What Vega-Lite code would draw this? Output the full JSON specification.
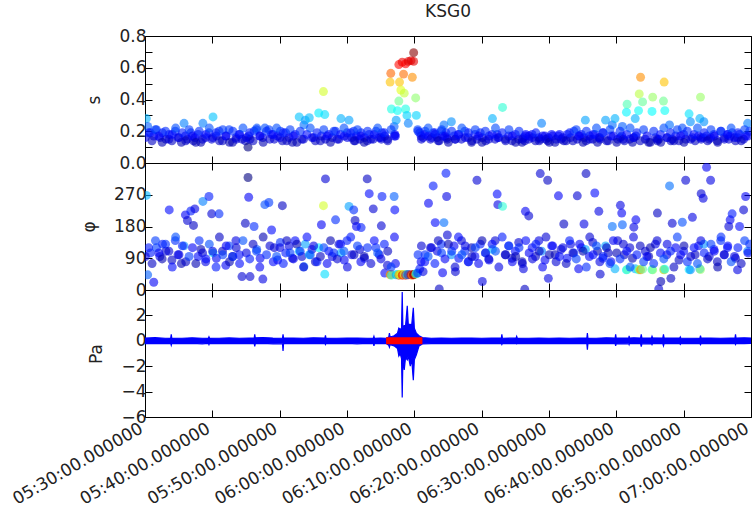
{
  "$schema": "https://vega.github.io/schema/vega-lite/v6.json",
  "background": "white",
  "padding": {"left": 8, "top": 2, "right": 0, "bottom": 0},
  "spacing": 0,
  "bounds": "flush",
  "config": {
    "view": {"stroke": "#000", "strokeWidth": 1},
    "font": "DejaVu Sans",
    "axis": {"grid": false, "labelFont": "DejaVu Sans", "labelFontSize": 17, "labelColor": "#222", "titleFont": "DejaVu Sans", "titleFontSize": 17, "titleFontWeight": "normal", "titleColor": "#222", "tickColor": "#000", "domain": false, "tickSize": -7, "tickWidth": 1, "labelPadding": 6, "titlePadding": 15}
  },
  "datasets": {
    "pts": [
      {"t":0.2,"s":0.28,"p":268},{"t":0.4,"s":0.23,"p":43},{"t":0.8,"s":0.19,"p":105},{"t":1.3,"s":0.17,"p":22},{"t":1.7,"s":0.21,"p":120},{"t":2.2,"s":0.16,"p":95},{"t":2.6,"s":0.19,"p":130},{"t":3.1,"s":0.15,"p":110},{"t":3.6,"s":0.18,"p":227},{"t":4.0,"s":0.14,"p":85},
      {"t":4.5,"s":0.2,"p":140},{"t":4.9,"s":0.16,"p":100},{"t":5.4,"s":0.13,"p":75},{"t":5.8,"s":0.25,"p":125},{"t":6.0,"s":0.17,"p":213},{"t":6.3,"s":0.15,"p":197},{"t":6.8,"s":0.19,"p":224},{"t":7.2,"s":0.14,"p":183},{"t":7.4,"s":0.16,"p":230},{"t":7.9,"s":0.18,"p":95},
      {"t":8.3,"s":0.13,"p":115},{"t":8.6,"s":0.25,"p":251},{"t":9.0,"s":0.16,"p":80},{"t":9.5,"s":0.19,"p":265},{"t":9.9,"s":0.15,"p":216},{"t":10.1,"s":0.29,"p":105},{"t":10.6,"s":0.17,"p":90},{"t":11.0,"s":0.2,"p":216},{"t":11.5,"s":0.14,"p":110},{"t":12.0,"s":0.17,"p":70},
      {"t":12.5,"s":0.21,"p":125},{"t":13.0,"s":0.13,"p":95},{"t":13.5,"s":0.16,"p":140},{"t":14.0,"s":0.18,"p":100},{"t":14.4,"s":0.15,"p":38},{"t":14.9,"s":0.14,"p":189},{"t":15.3,"s":0.1,"p":319},{"t":15.4,"s":0.17,"p":263},{"t":15.6,"s":0.15,"p":38},{"t":16.2,"s":0.2,"p":180},
      {"t":16.6,"s":0.22,"p":115},{"t":17.1,"s":0.17,"p":90},{"t":17.5,"s":0.16,"p":31},{"t":17.8,"s":0.22,"p":242},{"t":18.4,"s":0.21,"p":248},{"t":18.8,"s":0.18,"p":170},{"t":19.2,"s":0.15,"p":120},{"t":19.7,"s":0.17,"p":85},{"t":20.1,"s":0.2,"p":135},{"t":20.4,"s":0.14,"p":239},
      {"t":20.9,"s":0.19,"p":105},{"t":21.4,"s":0.16,"p":125},{"t":21.9,"s":0.13,"p":90},{"t":22.3,"s":0.18,"p":140},{"t":22.9,"s":0.29,"p":110},{"t":23.3,"s":0.15,"p":95},{"t":23.6,"s":0.24,"p":66},{"t":23.8,"s":0.27,"p":130},{"t":24.4,"s":0.285,"p":100},{"t":24.8,"s":0.16,"p":115},
      {"t":25.3,"s":0.14,"p":80},{"t":25.8,"s":0.315,"p":120},{"t":26.2,"s":0.17,"p":185},{"t":26.5,"s":0.45,"p":239},{"t":26.7,"s":0.305,"p":45},{"t":26.8,"s":0.15,"p":315},{"t":27.3,"s":0.18,"p":110},{"t":27.8,"s":0.16,"p":95},{"t":28.3,"s":0.2,"p":199},{"t":28.8,"s":0.15,"p":130},
      {"t":29.1,"s":0.28,"p":105},{"t":29.6,"s":0.17,"p":85},{"t":30.0,"s":0.19,"p":140},{"t":30.3,"s":0.27,"p":237},{"t":30.7,"s":0.16,"p":100},{"t":31.0,"s":0.2,"p":227},{"t":31.2,"s":0.14,"p":197},{"t":31.4,"s":0.17,"p":180},{"t":31.9,"s":0.15,"p":115},{"t":32.1,"s":0.19,"p":177},
      {"t":32.6,"s":0.16,"p":90},{"t":33.0,"s":0.14,"p":315},{"t":33.3,"s":0.18,"p":273},{"t":33.9,"s":0.15,"p":230},{"t":34.3,"s":0.2,"p":120},{"t":34.8,"s":0.16,"p":100},{"t":35.1,"s":0.15,"p":182},{"t":35.2,"s":0.19,"p":265},{"t":35.6,"s":0.17,"p":48},{"t":36.0,"s":0.15,"p":70},
      {"t":36.4,"s":0.51,"p":43},{"t":36.5,"s":0.565,"p":44},{"t":36.6,"s":0.34,"p":42},{"t":37.0,"s":0.23,"p":265},{"t":37.1,"s":0.18,"p":227},{"t":37.2,"s":0.17,"p":75},{"t":37.3,"s":0.27,"p":43},{"t":37.5,"s":0.33,"p":44},{"t":37.7,"s":0.62,"p":42},{"t":37.7,"s":0.39,"p":43},
      {"t":37.8,"s":0.51,"p":44},{"t":38.0,"s":0.46,"p":43},{"t":38.2,"s":0.635,"p":42},{"t":38.4,"s":0.56,"p":43},{"t":38.5,"s":0.44,"p":44},{"t":38.7,"s":0.34,"p":43},{"t":38.7,"s":0.625,"p":42},{"t":38.9,"s":0.3,"p":43},{"t":39.1,"s":0.64,"p":43},{"t":39.1,"s":0.25,"p":44},
      {"t":39.5,"s":0.645,"p":43},{"t":39.7,"s":0.54,"p":42},{"t":39.9,"s":0.64,"p":43},{"t":39.9,"s":0.695,"p":44},{"t":40.2,"s":0.41,"p":45},{"t":40.3,"s":0.3,"p":47},{"t":40.5,"s":0.21,"p":48},{"t":40.8,"s":0.19,"p":60},{"t":41.0,"s":0.17,"p":80},{"t":41.3,"s":0.16,"p":52},
      {"t":41.6,"s":0.2,"p":100},{"t":42.1,"s":0.17,"p":246},{"t":42.4,"s":0.15,"p":120},{"t":42.8,"s":0.19,"p":295},{"t":43.1,"s":0.18,"p":191},{"t":43.4,"s":0.16,"p":110},{"t":43.7,"s":0.14,"p":3},{"t":44.0,"s":0.2,"p":130},{"t":44.2,"s":0.17,"p":49},{"t":44.4,"s":0.24,"p":191},
      {"t":44.7,"s":0.19,"p":331},{"t":44.8,"s":0.16,"p":265},{"t":44.9,"s":0.15,"p":156},{"t":45.5,"s":0.26,"p":100},{"t":45.9,"s":0.17,"p":125},{"t":46.1,"s":0.15,"p":52},{"t":46.6,"s":0.18,"p":90},{"t":47.0,"s":0.15,"p":140},{"t":47.5,"s":0.2,"p":110},{"t":48.0,"s":0.16,"p":80},
      {"t":48.5,"s":0.13,"p":120},{"t":49.0,"s":0.18,"p":95},{"t":49.3,"s":0.15,"p":311},{"t":49.8,"s":0.19,"p":130},{"t":50.1,"s":0.16,"p":24},{"t":50.6,"s":0.14,"p":105},{"t":51.1,"s":0.17,"p":85},{"t":51.6,"s":0.28,"p":115},{"t":52.0,"s":0.15,"p":140},{"t":52.3,"s":0.18,"p":272},
      {"t":52.4,"s":0.16,"p":242},{"t":53.1,"s":0.35,"p":237},{"t":53.5,"s":0.15,"p":100},{"t":54.0,"s":0.17,"p":125},{"t":54.5,"s":0.14,"p":90},{"t":55.0,"s":0.18,"p":110},{"t":55.5,"s":0.15,"p":135},{"t":56.0,"s":0.13,"p":80},{"t":56.2,"s":0.16,"p":60},{"t":56.4,"s":0.14,"p":2},
      {"t":56.5,"s":0.17,"p":223},{"t":57.0,"s":0.15,"p":210},{"t":57.5,"s":0.18,"p":120},{"t":58.0,"s":0.14,"p":95},{"t":58.5,"s":0.16,"p":140},{"t":58.7,"s":0.15,"p":330},{"t":58.9,"s":0.25,"p":110},{"t":59.4,"s":0.17,"p":85},{"t":59.8,"s":0.14,"p":311},{"t":59.9,"s":0.16,"p":33},
      {"t":60.4,"s":0.18,"p":125},{"t":60.9,"s":0.13,"p":100},{"t":61.4,"s":0.17,"p":267},{"t":61.8,"s":0.15,"p":115},{"t":62.2,"s":0.14,"p":187},{"t":62.7,"s":0.18,"p":90},{"t":63.2,"s":0.16,"p":130},{"t":63.7,"s":0.2,"p":105},{"t":64.2,"s":0.15,"p":267},{"t":64.4,"s":0.17,"p":60},
      {"t":64.8,"s":0.18,"p":120},{"t":65.2,"s":0.16,"p":187},{"t":65.4,"s":0.27,"p":115},{"t":65.5,"s":0.14,"p":330},{"t":66.0,"s":0.17,"p":95},{"t":66.5,"s":0.15,"p":135},{"t":66.8,"s":0.18,"p":275},{"t":67.2,"s":0.13,"p":110},{"t":67.4,"s":0.16,"p":223},{"t":67.6,"s":0.15,"p":45},
      {"t":68.0,"s":0.19,"p":90},{"t":68.4,"s":0.27,"p":125},{"t":68.8,"s":0.14,"p":105},{"t":69.2,"s":0.17,"p":80},{"t":69.4,"s":0.24,"p":180},{"t":69.8,"s":0.28,"p":60},{"t":70.2,"s":0.15,"p":140},{"t":70.6,"s":0.16,"p":240},{"t":70.8,"s":0.17,"p":218},{"t":70.9,"s":0.23,"p":185},
      {"t":71.2,"s":0.14,"p":100},{"t":71.5,"s":0.32,"p":57},{"t":71.6,"s":0.37,"p":58},{"t":72.0,"s":0.15,"p":120},{"t":72.4,"s":0.13,"p":90},{"t":72.6,"s":0.16,"p":178},{"t":72.8,"s":0.28,"p":60},{"t":72.9,"s":0.17,"p":199},{"t":73.3,"s":0.33,"p":57},{"t":73.4,"s":0.435,"p":58},
      {"t":73.6,"s":0.54,"p":57},{"t":73.9,"s":0.385,"p":59},{"t":74.3,"s":0.15,"p":110},{"t":74.8,"s":0.13,"p":95},{"t":75.3,"s":0.325,"p":58},{"t":75.4,"s":0.415,"p":57},{"t":75.8,"s":0.16,"p":130},{"t":76.1,"s":0.14,"p":218},{"t":76.3,"s":0.15,"p":3},{"t":76.6,"s":0.13,"p":24},
      {"t":77.0,"s":0.39,"p":58},{"t":77.1,"s":0.51,"p":57},{"t":77.2,"s":0.33,"p":59},{"t":77.5,"s":0.16,"p":100},{"t":77.9,"s":0.24,"p":295},{"t":78.1,"s":0.14,"p":33},{"t":78.3,"s":0.15,"p":189},{"t":78.8,"s":0.17,"p":120},{"t":79.3,"s":0.14,"p":85},{"t":79.8,"s":0.22,"p":192},
      {"t":80.0,"s":0.18,"p":110},{"t":80.3,"s":0.15,"p":311},{"t":80.8,"s":0.31,"p":58},{"t":81.0,"s":0.26,"p":57},{"t":81.3,"s":0.16,"p":206},{"t":81.7,"s":0.14,"p":100},{"t":82.2,"s":0.17,"p":125},{"t":82.4,"s":0.28,"p":60},{"t":82.5,"s":0.415,"p":58},{"t":82.6,"s":0.15,"p":273},
      {"t":82.9,"s":0.16,"p":260},{"t":83.0,"s":0.26,"p":130},{"t":83.4,"s":0.17,"p":348},{"t":83.8,"s":0.15,"p":95},{"t":84.0,"s":0.16,"p":311},{"t":84.5,"s":0.18,"p":115},{"t":85.0,"s":0.14,"p":80},{"t":85.5,"s":0.2,"p":140},{"t":86.0,"s":0.16,"p":100},{"t":86.5,"s":0.18,"p":120},
      {"t":86.7,"s":0.15,"p":180},{"t":86.9,"s":0.17,"p":199},{"t":87.2,"s":0.19,"p":216},{"t":87.7,"s":0.14,"p":90},{"t":88.0,"s":0.16,"p":57},{"t":88.3,"s":0.18,"p":180},{"t":88.9,"s":0.15,"p":227},{"t":89.2,"s":0.17,"p":265},{"t":89.5,"s":0.25,"p":110},{"t":89.8,"s":0.2,"p":130},
      {"t":0.05,"s":0.16,"p":95},{"t":0.55,"s":0.19,"p":120},{"t":1.05,"s":0.14,"p":75},{"t":1.55,"s":0.21,"p":140},{"t":2.05,"s":0.17,"p":105},{"t":2.55,"s":0.13,"p":88},{"t":3.05,"s":0.2,"p":130},{"t":3.55,"s":0.15,"p":110},{"t":4.05,"s":0.18,"p":65},{"t":4.55,"s":0.22,"p":150},
      {"t":5.05,"s":0.16,"p":100},{"t":5.55,"s":0.19,"p":125},{"t":6.05,"s":0.14,"p":80},{"t":6.55,"s":0.21,"p":95},{"t":7.05,"s":0.17,"p":120},{"t":7.55,"s":0.13,"p":75},{"t":8.05,"s":0.2,"p":140},{"t":8.55,"s":0.15,"p":105},{"t":9.05,"s":0.18,"p":88},{"t":9.55,"s":0.22,"p":130},
      {"t":10.05,"s":0.16,"p":110},{"t":10.55,"s":0.19,"p":65},{"t":11.05,"s":0.14,"p":150},{"t":11.55,"s":0.21,"p":100},{"t":12.05,"s":0.17,"p":125},{"t":12.55,"s":0.13,"p":80},{"t":13.05,"s":0.2,"p":95},{"t":13.55,"s":0.15,"p":120},{"t":14.05,"s":0.18,"p":75},{"t":14.55,"s":0.22,"p":140},
      {"t":15.05,"s":0.16,"p":105},{"t":15.55,"s":0.19,"p":88},{"t":16.05,"s":0.14,"p":130},{"t":16.55,"s":0.21,"p":110},{"t":17.05,"s":0.17,"p":65},{"t":17.55,"s":0.13,"p":150},{"t":18.05,"s":0.2,"p":100},{"t":18.55,"s":0.15,"p":125},{"t":19.05,"s":0.18,"p":80},{"t":19.55,"s":0.22,"p":95},
      {"t":20.05,"s":0.16,"p":120},{"t":20.55,"s":0.19,"p":75},{"t":21.05,"s":0.14,"p":140},{"t":21.55,"s":0.21,"p":105},{"t":22.05,"s":0.17,"p":88},{"t":22.55,"s":0.13,"p":130},{"t":23.05,"s":0.2,"p":110},{"t":23.55,"s":0.15,"p":65},{"t":24.05,"s":0.18,"p":150},{"t":24.55,"s":0.22,"p":100},
      {"t":25.05,"s":0.16,"p":125},{"t":25.55,"s":0.19,"p":80},{"t":26.05,"s":0.14,"p":95},{"t":26.55,"s":0.21,"p":120},{"t":27.05,"s":0.17,"p":75},{"t":27.55,"s":0.13,"p":140},{"t":28.05,"s":0.2,"p":105},{"t":28.55,"s":0.15,"p":88},{"t":29.05,"s":0.18,"p":130},{"t":29.55,"s":0.22,"p":110},
      {"t":30.05,"s":0.16,"p":65},{"t":30.55,"s":0.19,"p":150},{"t":31.05,"s":0.14,"p":100},{"t":31.55,"s":0.21,"p":125},{"t":32.05,"s":0.17,"p":80},{"t":32.55,"s":0.13,"p":95},{"t":33.05,"s":0.2,"p":120},{"t":33.55,"s":0.15,"p":75},{"t":34.05,"s":0.18,"p":140},{"t":34.55,"s":0.22,"p":105},
      {"t":35.05,"s":0.16,"p":88},{"t":35.55,"s":0.19,"p":130},{"t":36.05,"s":0.14,"p":110},{"t":36.55,"s":0.21,"p":65},{"t":37.05,"s":0.17,"p":150},{"t":40.55,"s":0.2,"p":100},{"t":41.05,"s":0.15,"p":125},{"t":41.55,"s":0.18,"p":80},{"t":42.05,"s":0.22,"p":95},{"t":42.55,"s":0.16,"p":120},
      {"t":43.05,"s":0.19,"p":75},{"t":43.55,"s":0.14,"p":140},{"t":44.05,"s":0.21,"p":105},{"t":44.55,"s":0.17,"p":88},{"t":45.05,"s":0.13,"p":130},{"t":45.55,"s":0.2,"p":110},{"t":46.05,"s":0.15,"p":65},{"t":46.55,"s":0.18,"p":150},{"t":47.05,"s":0.22,"p":100},{"t":47.55,"s":0.16,"p":125},
      {"t":48.05,"s":0.19,"p":80},{"t":48.55,"s":0.14,"p":95},{"t":49.05,"s":0.21,"p":120},{"t":49.55,"s":0.17,"p":75},{"t":50.05,"s":0.13,"p":140},{"t":50.55,"s":0.2,"p":105},{"t":51.05,"s":0.15,"p":88},{"t":51.55,"s":0.18,"p":130},{"t":52.05,"s":0.22,"p":110},{"t":52.55,"s":0.16,"p":65},
      {"t":53.05,"s":0.19,"p":150},{"t":53.55,"s":0.14,"p":100},{"t":54.05,"s":0.21,"p":125},{"t":54.55,"s":0.17,"p":80},{"t":55.05,"s":0.13,"p":95},{"t":55.55,"s":0.2,"p":120},{"t":56.05,"s":0.15,"p":75},{"t":56.55,"s":0.18,"p":140},{"t":57.05,"s":0.17,"p":105},{"t":57.55,"s":0.16,"p":88},
      {"t":58.05,"s":0.19,"p":130},{"t":58.55,"s":0.14,"p":110},{"t":59.05,"s":0.17,"p":65},{"t":59.55,"s":0.15,"p":150},{"t":60.05,"s":0.13,"p":100},{"t":60.55,"s":0.17,"p":125},{"t":61.05,"s":0.15,"p":80},{"t":61.55,"s":0.18,"p":95},{"t":62.05,"s":0.16,"p":120},{"t":62.55,"s":0.14,"p":75},
      {"t":63.05,"s":0.19,"p":140},{"t":63.55,"s":0.14,"p":105},{"t":64.05,"s":0.21,"p":88},{"t":64.55,"s":0.17,"p":130},{"t":65.05,"s":0.13,"p":110},{"t":65.55,"s":0.2,"p":65},{"t":66.05,"s":0.15,"p":150},{"t":66.55,"s":0.18,"p":100},{"t":67.05,"s":0.22,"p":125},{"t":67.55,"s":0.16,"p":80},
      {"t":68.05,"s":0.19,"p":95},{"t":68.55,"s":0.14,"p":120},{"t":69.05,"s":0.21,"p":75},{"t":69.55,"s":0.17,"p":140},{"t":70.05,"s":0.13,"p":105},{"t":70.55,"s":0.2,"p":88},{"t":71.05,"s":0.15,"p":130},{"t":71.55,"s":0.18,"p":110},{"t":72.05,"s":0.22,"p":65},{"t":72.55,"s":0.16,"p":150},
      {"t":73.05,"s":0.19,"p":100},{"t":73.55,"s":0.14,"p":125},{"t":74.05,"s":0.21,"p":80},{"t":74.55,"s":0.17,"p":95},{"t":75.05,"s":0.13,"p":120},{"t":75.55,"s":0.2,"p":75},{"t":76.05,"s":0.15,"p":140},{"t":76.55,"s":0.18,"p":105},{"t":77.05,"s":0.22,"p":88},{"t":77.55,"s":0.16,"p":130},
      {"t":78.05,"s":0.19,"p":110},{"t":78.55,"s":0.14,"p":65},{"t":79.05,"s":0.21,"p":150},{"t":79.55,"s":0.17,"p":100},{"t":80.05,"s":0.13,"p":125},{"t":80.55,"s":0.2,"p":80},{"t":81.05,"s":0.15,"p":95},{"t":81.55,"s":0.18,"p":120},{"t":82.05,"s":0.22,"p":75},{"t":82.55,"s":0.16,"p":140},
      {"t":83.05,"s":0.19,"p":105},{"t":83.55,"s":0.14,"p":88},{"t":84.05,"s":0.21,"p":130},{"t":84.55,"s":0.17,"p":110},{"t":85.05,"s":0.13,"p":65},{"t":85.55,"s":0.2,"p":150},{"t":86.05,"s":0.15,"p":100},{"t":86.55,"s":0.18,"p":125},{"t":87.05,"s":0.22,"p":80},{"t":87.55,"s":0.16,"p":95},
      {"t":88.05,"s":0.19,"p":120},{"t":88.55,"s":0.14,"p":75},{"t":89.05,"s":0.21,"p":140},{"t":89.55,"s":0.17,"p":105}
    ],
    "wave": [
      {"t":0,"lo":-0.22,"hi":0.22},{"t":1.5,"lo":-0.2,"hi":0.25},{"t":3.0,"lo":-0.22,"hi":0.2},{"t":3.82,"lo":-0.2,"hi":0.22},{"t":3.9,"lo":-0.35,"hi":0.5},{"t":3.98,"lo":-0.2,"hi":0.22},
      {"t":5.5,"lo":-0.22,"hi":0.2},{"t":7.0,"lo":-0.2,"hi":0.24},{"t":8.5,"lo":-0.24,"hi":0.2},{"t":9.42,"lo":-0.2,"hi":0.22},{"t":9.5,"lo":-0.3,"hi":0.32},{"t":9.58,"lo":-0.2,"hi":0.22},
      {"t":11.0,"lo":-0.22,"hi":0.2},{"t":12.5,"lo":-0.2,"hi":0.23},{"t":14.0,"lo":-0.23,"hi":0.2},{"t":15.5,"lo":-0.2,"hi":0.22},{"t":16.22,"lo":-0.22,"hi":0.22},{"t":16.3,"lo":-0.45,"hi":0.5},{"t":16.38,"lo":-0.22,"hi":0.24},
      {"t":17.5,"lo":-0.2,"hi":0.26},{"t":19.0,"lo":-0.24,"hi":0.22},{"t":20.42,"lo":-0.22,"hi":0.2},{"t":20.5,"lo":-0.8,"hi":0.5},{"t":20.58,"lo":-0.22,"hi":0.22},
      {"t":22.0,"lo":-0.2,"hi":0.22},{"t":23.5,"lo":-0.22,"hi":0.2},{"t":25.0,"lo":-0.2,"hi":0.24},{"t":26.72,"lo":-0.22,"hi":0.22},{"t":26.8,"lo":-0.3,"hi":0.42},{"t":26.88,"lo":-0.2,"hi":0.22},
      {"t":28.5,"lo":-0.22,"hi":0.2},{"t":30.0,"lo":-0.2,"hi":0.22},{"t":31.5,"lo":-0.24,"hi":0.22},{"t":33.0,"lo":-0.2,"hi":0.2},{"t":33.92,"lo":-0.22,"hi":0.22},{"t":34.0,"lo":-0.4,"hi":0.35},{"t":34.08,"lo":-0.22,"hi":0.2},
      {"t":35.0,"lo":-0.2,"hi":0.22},{"t":35.8,"lo":-0.22,"hi":0.2},{"t":36.2,"lo":-0.35,"hi":0.3},{"t":36.3,"lo":-0.5,"hi":0.6},{"t":36.4,"lo":-0.3,"hi":0.3},{"t":37.0,"lo":-0.4,"hi":0.4},
      {"t":37.5,"lo":-0.6,"hi":0.6},{"t":37.7,"lo":-1.2,"hi":1.0},{"t":37.9,"lo":-1.0,"hi":0.9},{"t":38.1,"lo":-1.4,"hi":1.0},{"t":38.2,"lo":-4.47,"hi":3.84},{"t":38.3,"lo":-1.5,"hi":1.0},
      {"t":38.5,"lo":-2.3,"hi":1.2},{"t":38.7,"lo":-1.3,"hi":1.2},{"t":38.95,"lo":-1.5,"hi":2.75},{"t":39.1,"lo":-1.2,"hi":1.3},{"t":39.4,"lo":-2.0,"hi":1.3},{"t":39.6,"lo":-1.4,"hi":1.2},
      {"t":39.85,"lo":-3.1,"hi":2.6},{"t":40.0,"lo":-1.5,"hi":1.0},{"t":40.3,"lo":-1.1,"hi":0.6},{"t":40.7,"lo":-0.4,"hi":0.4},{"t":41.2,"lo":-0.25,"hi":0.25},
      {"t":42.5,"lo":-0.22,"hi":0.2},{"t":44.0,"lo":-0.2,"hi":0.22},{"t":45.5,"lo":-0.22,"hi":0.2},{"t":47.0,"lo":-0.2,"hi":0.22},{"t":48.5,"lo":-0.22,"hi":0.22},{"t":50.0,"lo":-0.2,"hi":0.2},
      {"t":51.5,"lo":-0.22,"hi":0.22},{"t":52.92,"lo":-0.2,"hi":0.22},{"t":53.0,"lo":-0.3,"hi":0.5},{"t":53.08,"lo":-0.22,"hi":0.2},{"t":55.12,"lo":-0.22,"hi":0.22},{"t":55.2,"lo":-0.25,"hi":0.35},{"t":55.28,"lo":-0.2,"hi":0.22},
      {"t":57.0,"lo":-0.22,"hi":0.2},{"t":58.5,"lo":-0.2,"hi":0.22},{"t":60.0,"lo":-0.22,"hi":0.2},{"t":61.5,"lo":-0.2,"hi":0.22},{"t":63.0,"lo":-0.22,"hi":0.2},{"t":64.5,"lo":-0.2,"hi":0.22},
      {"t":65.62,"lo":-0.22,"hi":0.22},{"t":65.7,"lo":-0.7,"hi":0.6},{"t":65.78,"lo":-0.22,"hi":0.22},{"t":67.0,"lo":-0.2,"hi":0.2},{"t":68.5,"lo":-0.22,"hi":0.24},
      {"t":69.82,"lo":-0.22,"hi":0.22},{"t":69.9,"lo":-0.4,"hi":0.5},{"t":69.98,"lo":-0.22,"hi":0.22},{"t":71.2,"lo":-0.24,"hi":0.22},{"t":71.85,"lo":-0.22,"hi":0.22},{"t":71.9,"lo":-0.3,"hi":0.4},{"t":71.95,"lo":-0.22,"hi":0.22},{"t":72.6,"lo":-0.22,"hi":0.24},
      {"t":73.6,"lo":-0.22,"hi":0.22},{"t":73.7,"lo":-0.45,"hi":0.5},{"t":73.8,"lo":-0.24,"hi":0.22},{"t":75.22,"lo":-0.22,"hi":0.22},{"t":75.3,"lo":-0.3,"hi":0.35},{"t":75.38,"lo":-0.22,"hi":0.24},{"t":76.9,"lo":-0.22,"hi":0.22},{"t":77.0,"lo":-0.4,"hi":0.5},{"t":77.1,"lo":-0.22,"hi":0.22},
      {"t":79.42,"lo":-0.22,"hi":0.22},{"t":79.5,"lo":-0.28,"hi":0.3},{"t":79.58,"lo":-0.22,"hi":0.2},{"t":81.0,"lo":-0.22,"hi":0.2},{"t":82.42,"lo":-0.22,"hi":0.22},{"t":82.5,"lo":-0.3,"hi":0.4},{"t":82.58,"lo":-0.22,"hi":0.22},
      {"t":84.0,"lo":-0.2,"hi":0.22},{"t":85.5,"lo":-0.22,"hi":0.2},{"t":87.0,"lo":-0.2,"hi":0.22},{"t":87.62,"lo":-0.22,"hi":0.22},{"t":87.7,"lo":-0.3,"hi":0.5},{"t":87.78,"lo":-0.2,"hi":0.22},
      {"t":89.0,"lo":-0.22,"hi":0.24},{"t":90.0,"lo":-0.2,"hi":0.22}
    ],
    "red": [{"t0":35.8,"t1":41.2,"v":0}]
  },
  "vconcat": [
    {
      "width": 606, "height": 127,
      "title": {"text": "KSG0", "fontSize": 17, "font": "DejaVu Sans", "fontWeight": "normal", "color": "#222", "anchor": "middle", "frame": "group", "offset": 6},
      "data": {"name": "pts"},
      "layer": [
        {
          "mark": {"type": "circle", "size": 80, "opacity": 0.6, "clip": true},
          "encoding": {
            "x": {"field": "t", "type": "quantitative", "scale": {"domain": [0, 90], "nice": false, "zero": false}, "axis": {"orient": "bottom", "values": [0,10,20,30,40,50,60,70,80,90], "labels": false, "title": null}},
            "y": {"field": "s", "type": "quantitative", "scale": {"domain": [0, 0.8], "nice": false}, "axis": {"orient": "left", "values": [0,0.1,0.2,0.3,0.4,0.5,0.6,0.7,0.8], "format": ".1f", "title": "s"}},
            "color": {"field": "s", "type": "quantitative", "legend": null, "scale": {"type": "linear", "interpolate": "rgb", "domain": [0.1,0.175,0.25,0.325,0.4,0.475,0.55,0.625,0.7], "range": ["#00007f","#0000ff","#007fff","#00ffff","#7fff7f","#ffff00","#ff7f00","#ff0000","#7f0000"], "clamp": true}}
          }
        },
        {
          "mark": {"type": "circle", "opacity": 0, "clip": true},
          "encoding": {
            "x": {"field": "t", "type": "quantitative", "axis": {"orient": "top", "values": [0,10,20,30,40,50,60,70,80,90], "labels": false, "title": null}},
            "y": {"field": "s", "type": "quantitative", "axis": {"orient": "right", "values": [0,0.1,0.2,0.3,0.4,0.5,0.6,0.7,0.8], "labels": false, "title": null}}
          }
        }
      ]
    },
    {
      "width": 606, "height": 127,
      "data": {"name": "pts"},
      "layer": [
        {
          "mark": {"type": "circle", "size": 80, "opacity": 0.6, "clip": true},
          "encoding": {
            "x": {"field": "t", "type": "quantitative", "scale": {"domain": [0, 90], "nice": false, "zero": false}, "axis": {"orient": "bottom", "values": [0,10,20,30,40,50,60,70,80,90], "labels": false, "title": null}},
            "y": {"field": "p", "type": "quantitative", "scale": {"domain": [0, 360], "nice": false}, "axis": {"orient": "left", "values": [0,90,180,270], "title": "φ"}},
            "color": {"field": "s", "type": "quantitative", "legend": null, "scale": {"type": "linear", "interpolate": "rgb", "domain": [0.1,0.175,0.25,0.325,0.4,0.475,0.55,0.625,0.7], "range": ["#00007f","#0000ff","#007fff","#00ffff","#7fff7f","#ffff00","#ff7f00","#ff0000","#7f0000"], "clamp": true}}
          }
        },
        {
          "mark": {"type": "circle", "opacity": 0, "clip": true},
          "encoding": {
            "x": {"field": "t", "type": "quantitative", "axis": {"orient": "top", "values": [0,10,20,30,40,50,60,70,80,90], "labels": false, "title": null}},
            "y": {"field": "p", "type": "quantitative", "axis": {"orient": "right", "values": [0,90,180,270], "labels": false, "title": null}}
          }
        }
      ]
    },
    {
      "width": 606, "height": 127,
      "layer": [
        {
          "data": {"name": "wave"},
          "mark": {"type": "area", "color": "#0000ff", "stroke": "#0000ff", "strokeWidth": 1.2, "clip": true},
          "encoding": {
            "x": {"field": "t", "type": "quantitative", "scale": {"domain": [0, 90], "nice": false, "zero": false}, "axis": {"orient": "bottom", "values": [0,10,20,30,40,50,60,70,80,90], "title": null, "labelFontSize": 17, "labelAngle": -30, "labelAlign": "right", "labelBaseline": "top", "labelPadding": 10, "labelOffset": -8, "labelOverlap": false, "labelFlush": false, "labelBound": false, "labelExpr": "timeFormat(datetime(2000, 0, 1, 5, 30 + datum.value, 0), '%H:%M:%S') + '.000000'"}},
            "y": {"field": "lo", "type": "quantitative", "scale": {"domain": [-6, 4], "nice": false, "zero": false}, "axis": {"orient": "left", "values": [-6,-4,-2,0,2], "title": "Pa"}},
            "y2": {"field": "hi"}
          }
        },
        {
          "data": {"name": "red"},
          "mark": {"type": "rule", "color": "#ff0000", "strokeWidth": 7, "clip": true},
          "encoding": {
            "x": {"field": "t0", "type": "quantitative", "axis": null},
            "x2": {"field": "t1"},
            "y": {"field": "v", "type": "quantitative", "axis": null}
          }
        },
        {
          "data": {"name": "wave"},
          "mark": {"type": "circle", "opacity": 0, "clip": true},
          "encoding": {
            "x": {"field": "t", "type": "quantitative", "axis": {"orient": "top", "values": [0,10,20,30,40,50,60,70,80,90], "labels": false, "title": null}},
            "y": {"field": "hi", "type": "quantitative", "axis": {"orient": "right", "values": [-6,-4,-2,0,2], "labels": false, "title": null}}
          }
        }
      ]
    }
  ]
}
